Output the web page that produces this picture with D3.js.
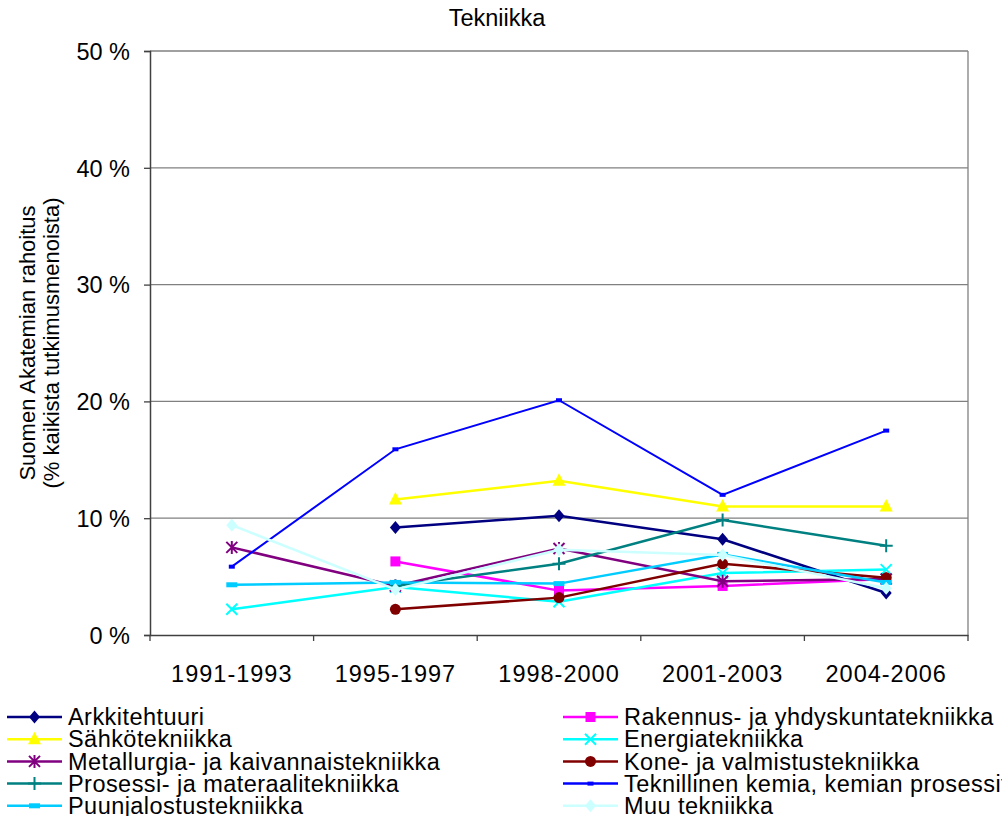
<!DOCTYPE html>
<html><head><meta charset="utf-8">
<script src="https://cdn.jsdelivr.net/npm/d3@7"></script>
<style>body{margin:0;background:#fff}svg{display:block;font-family:"Liberation Sans",Arial,sans-serif}</style>
</head><body><svg id="c" width="1002" height="816"></svg>
<script>
const categories = ["1991-1993","1995-1997","1998-2000","2001-2003","2004-2006"];
const yTicks = [0,10,20,30,40,50];
const seriesNames = ["Arkkitehtuuri","Rakennus- ja yhdyskuntatekniikka","Sähkötekniikka","Energiatekniikka","Metallurgia- ja kaivannaistekniikka","Kone- ja valmistustekniikka","Prosessi- ja materaalitekniikka","Teknillinen kemia, kemian prosessitekniikka","Puunjalostustekniikka","Muu tekniikka"];
const seriesColors = ["#000080","#FF00FF","#FFFF00","#00FFFF","#800080","#800000","#008080","#0000FF","#00CCFF","#CCFFFF"];
const seriesMarkers = ["diamond","square","triangle","x","star","circle","plus","dash","bar","diamond"];
const arkkitehtuuri = [null,9.2,10.2,8.2,3.6];
const rakennus = [null,6.3,3.8,4.2,4.8];
const sahko = [null,11.6,13.2,11.0,11.0];
const energia = [2.2,4.1,2.85,5.3,5.6];
const metallurgia = [7.5,4.2,7.4,4.6,4.8];
const kone = [null,2.2,3.2,6.1,4.9];
const prosessi = [null,4.2,6.1,9.85,7.65];
const teknillinen = [5.85,15.9,20.1,12.0,17.5];
const puunjalostus = [4.3,4.5,4.4,6.9,4.5];
const muu = [9.4,3.9,7.3,6.85,4.0];
const seriesValues = [arkkitehtuuri,rakennus,sahko,energia,metallurgia,kone,prosessi,teknillinen,puunjalostus,muu];

const FS = 23.5;
const svg = d3.select("#c");
const L=150,R=968,T=51,B=635;
const x = d3.scaleBand().domain(categories).range([L,R]);
const y = d3.scaleLinear().domain([0,50]).range([B,T]);

svg.append("text").attr("x",497).attr("y",26).attr("text-anchor","middle").attr("font-size",FS).text("Tekniikka");

// grid
svg.append("g").selectAll("line").data(yTicks.filter(d=>d>0)).join("line")
  .attr("x1",L).attr("x2",R).attr("y1",d=>y(d)).attr("y2",d=>y(d)).attr("stroke","#808080").attr("stroke-width",1.3);
svg.append("line").attr("x1",R).attr("x2",R).attr("y1",T).attr("y2",B).attr("stroke","#808080").attr("stroke-width",1.3);

// axes
const yAxis = d3.axisLeft(y).tickValues(yTicks).tickFormat(d=>d+" %").tickSize(6).tickPadding(14);
const gy = svg.append("g").attr("transform",`translate(${L},0)`).call(yAxis);
gy.select(".domain").attr("stroke","#404040").attr("stroke-width",1.5);
gy.selectAll(".tick line").attr("stroke","#404040").attr("stroke-width",1.3);
gy.selectAll("text").attr("font-size",FS).attr("font-family","Liberation Sans, Arial, sans-serif").attr("fill","#000").attr("dy","0.35em");

const xAxis = d3.axisBottom(x).tickSize(0).tickPadding(24);
const gx = svg.append("g").attr("transform",`translate(0,${B})`).call(xAxis);
gx.select(".domain").attr("stroke","#404040").attr("stroke-width",1.5);
gx.selectAll("text").attr("font-size",FS).attr("font-family","Liberation Sans, Arial, sans-serif").attr("fill","#000")
  .attr("y",47).attr("dy",0).attr("letter-spacing",1);
const bounds = categories.map(c=>x(c)).concat([x(categories[categories.length-1])+x.bandwidth()]);
svg.append("g").selectAll("line").data(bounds).join("line")
  .attr("x1",d=>d).attr("x2",d=>d).attr("y1",B).attr("y2",B+6).attr("stroke","#404040").attr("stroke-width",1.3);

// y title
const yt = svg.append("text").attr("transform","translate(35,343) rotate(-90)").attr("text-anchor","middle").attr("font-size",22);
yt.append("tspan").attr("x",0).attr("dy",0).text("Suomen Akatemian rahoitus");
yt.append("tspan").attr("x",0).attr("dy",24).text("(% kaikista tutkimusmenoista)");

function marker(g, type, color, cx, cy){
  const s = g.append("g").attr("transform",`translate(${cx},${cy})`);
  switch(type){
    case "diamond": s.append("path").attr("d","M0,-6.5L5.5,0L0,6.5L-5.5,0Z").attr("fill",color); break;
    case "square": s.append("rect").attr("x",-5).attr("y",-5).attr("width",10).attr("height",10).attr("fill",color); break;
    case "triangle": s.append("path").attr("d","M0,-7.5L6.5,5L-6.5,5Z").attr("fill",color); break;
    case "circle": s.append("circle").attr("r",5.5).attr("fill",color); break;
    case "x": s.append("path").attr("d","M-5.5,-5.5L5.5,5.5M-5.5,5.5L5.5,-5.5").attr("stroke",color).attr("stroke-width",2); break;
    case "star": s.append("path").attr("d","M-5.5,-5.5L5.5,5.5M-5.5,5.5L5.5,-5.5M0,-6.5L0,6.5").attr("stroke",color).attr("stroke-width",2); break;
    case "plus": s.append("path").attr("d","M-6.5,0L6.5,0M0,-6.5L0,6.5").attr("stroke",color).attr("stroke-width",2); break;
    case "dash": s.append("rect").attr("x",-3).attr("y",-2).attr("width",6).attr("height",4).attr("fill",color); break;
    case "bar": s.append("rect").attr("x",-5.5).attr("y",-2.5).attr("width",11).attr("height",5).attr("fill",color); break;
  }
}

const line = d3.line().defined(d=>d.v!=null).x(d=>x(d.c)+x.bandwidth()/2).y(d=>y(d.v));
const plot = svg.append("g");
seriesValues.forEach((vals,i)=>{
  const pts = vals.map((v,j)=>({c:categories[j],v}));
  plot.append("path").datum(pts).attr("d",line).attr("fill","none").attr("stroke",seriesColors[i])
    .attr("stroke-width", i===7?2:2.5);
  pts.filter(p=>p.v!=null).forEach(p=>marker(plot, seriesMarkers[i], seriesColors[i], x(p.c)+x.bandwidth()/2, y(p.v)));
});

// legend
const lg = svg.append("g");
seriesNames.forEach((n,i)=>{
  const col = i%2, row = Math.floor(i/2);
  const x0 = col===0?7:563, x1 = col===0?62:618;
  const yy = 717 + row*22.2;
  lg.append("line").attr("x1",x0).attr("x2",x1).attr("y1",yy).attr("y2",yy).attr("stroke",seriesColors[i]).attr("stroke-width",2.5);
  marker(lg, seriesMarkers[i], seriesColors[i], (x0+x1)/2, yy);
  lg.append("text").attr("x",x1+6).attr("y",yy+8.2).attr("font-size",FS).attr("letter-spacing",0.45).text(n);
});
</script></body></html>
